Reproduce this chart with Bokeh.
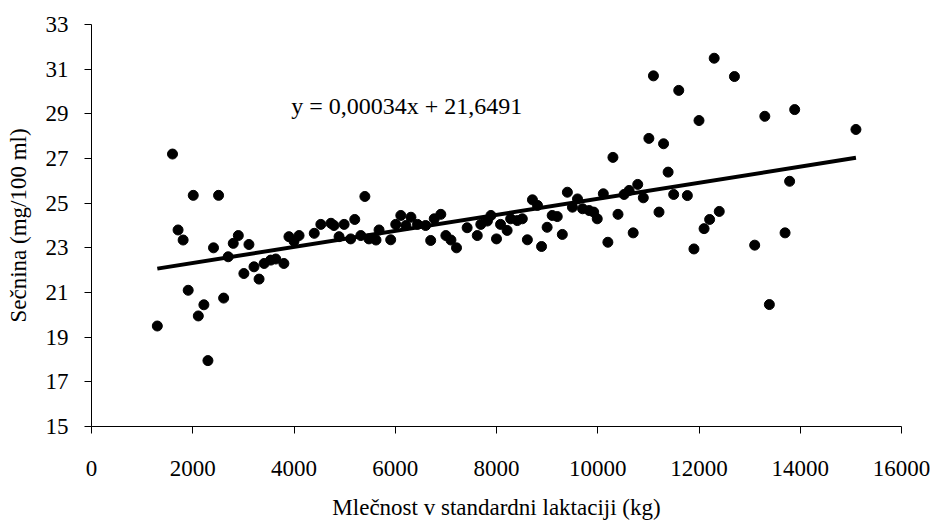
from bokeh.plotting import figure
from bokeh.models import Range1d, FixedTicker, Label, ColumnDataSource
from bokeh.embed import file_html
from bokeh.resources import INLINE

# Milk yield in standard lactation (kg)
milk = [1300, 1600, 1710, 1810, 1910, 2010, 2110, 2220, 2300, 2410, 2510, 2610,
        2700, 2800, 2900, 3010, 3110, 3210, 3310, 3410, 3540, 3640, 3800, 3900,
        4000, 4100, 4400, 4530, 4730, 4790, 4890, 4990, 5120, 5200, 5320, 5400,
        5480, 5620, 5680, 5910, 6010, 6110, 6210, 6310, 6440, 6600, 6700, 6770,
        6900, 7000, 7100, 7210, 7420, 7620, 7690, 7820, 7890, 8000, 8080, 8210,
        8280, 8410, 8510, 8610, 8710, 8810, 8890, 9000, 9100, 9200, 9300, 9400,
        9500, 9600, 9700, 9830, 9920, 9990, 10110, 10200, 10300, 10400, 10520,
        10620, 10700, 10790, 10900, 11010, 11100, 11210, 11300, 11390, 11500,
        11600, 11770, 11900, 12000, 12100, 12210, 12300, 12400, 12700, 13100,
        13300, 13390, 13700, 13790, 13890, 15100]
# Urea (mg/100 ml)
urea = [19.5, 27.2, 23.8, 23.35, 21.1, 25.35, 19.95, 20.45, 17.95, 23.0, 25.35, 20.75,
        22.6, 23.2, 23.55, 21.85, 23.15, 22.15, 21.6, 22.3, 22.45, 22.5, 22.3, 23.5,
        23.3, 23.55, 23.65, 24.05, 24.1, 24.0, 23.5, 24.05, 23.4, 24.27, 23.55, 25.3,
        23.4, 23.35, 23.8, 23.36, 24.05, 24.45, 24.0, 24.37, 24.05, 24.0, 23.33, 24.3,
        24.5, 23.55, 23.35, 23.0, 23.9, 23.55, 24.05, 24.2, 24.45, 23.4, 24.05, 23.78,
        24.3, 24.22, 24.3, 23.36, 25.15, 24.9, 23.06, 23.92, 24.45, 24.4, 23.6, 25.49,
        24.82, 25.19, 24.75, 24.67, 24.6, 24.3, 25.42, 23.25, 27.05, 24.5, 25.39,
        25.57, 23.67, 25.84, 25.24, 27.9, 30.7, 24.6, 27.66, 26.39, 25.39,
        30.05, 25.34, 22.95, 28.7, 23.86, 24.27, 31.49, 24.63, 30.67, 23.12,
        28.89, 20.46, 23.67, 25.98, 29.19, 28.3]

trend_x = [1300, 15100]
trend_y = [22.07, 27.03]

x_ticks = [0, 2000, 4000, 6000, 8000, 10000, 12000, 14000, 16000]
y_ticks = [15, 17, 19, 21, 23, 25, 27, 29, 31, 33]

equation = "y = 0,00034x + 21,6491"
x_title = "Mlečnost v standardni laktaciji (kg)"
y_title = "Sečnina (mg/100 ml)"

FONT = "Liberation Serif"

p = figure(width=934, height=524, output_backend="svg", toolbar_location=None,
           x_range=Range1d(0, 16000), y_range=Range1d(15, 33),
           min_border_left=91, min_border_right=33, min_border_top=24,
           min_border_bottom=98)
p.outline_line_color = None
p.xgrid.visible = False
p.ygrid.visible = False

for ax in (p.xaxis[0], p.yaxis[0]):
    ax.axis_line_color = "black"
    ax.major_tick_line_color = "black"
    ax.minor_tick_line_color = None
    ax.major_tick_in = 0
    ax.major_tick_out = 7
    ax.major_label_text_font = FONT
    ax.major_label_text_font_size = "23px"
    ax.major_label_text_color = "black"
    ax.axis_label_text_font = FONT
    ax.axis_label_text_font_size = "23px"
    ax.axis_label_text_font_style = "normal"
    ax.axis_label_text_color = "black"

p.xaxis.ticker = FixedTicker(ticks=x_ticks)
p.yaxis.ticker = FixedTicker(ticks=y_ticks)
p.xaxis.axis_label = x_title
p.yaxis.axis_label = y_title
p.xaxis.major_label_standoff = 27
p.xaxis.axis_label_standoff = 16
p.yaxis.major_label_standoff = 16
p.yaxis.axis_label_standoff = 12

src = ColumnDataSource(data=dict(x=milk, y=urea))
p.scatter("x", "y", source=src, size=10, color="black", line_color="black")
p.line(trend_x, trend_y, line_color="black", line_width=4)

p.add_layout(Label(x=6228, y=29.33, text=equation, text_font=FONT,
                   text_font_size="24px", text_align="center",
                   text_baseline="middle", text_color="black"))

open("out.html", "w").write(file_html(p, INLINE))
